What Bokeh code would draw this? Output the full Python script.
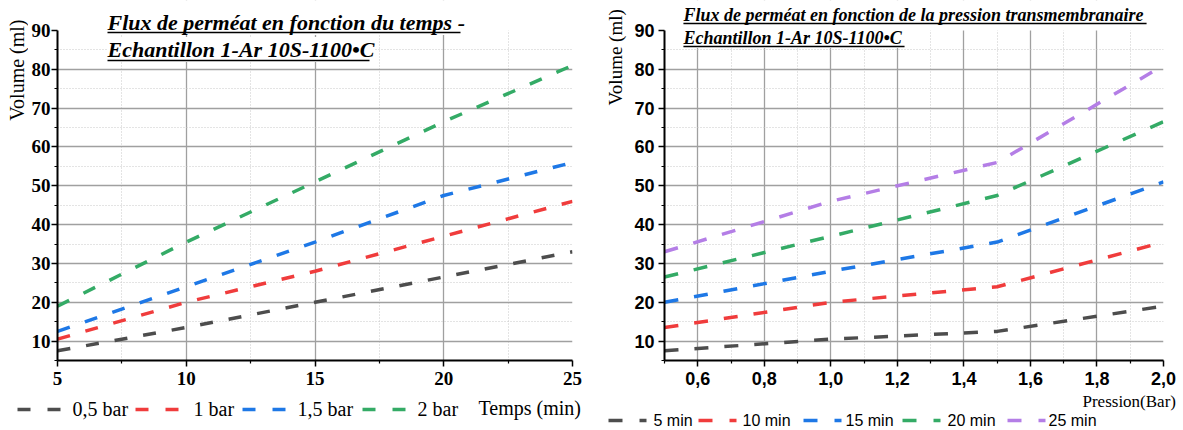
from bokeh.plotting import figure
from bokeh.models import Range1d, FixedTicker, Label, Arrow, BoxAnnotation, CustomJSTickFormatter
from bokeh.layouts import row, column
from bokeh.embed import file_html
from bokeh.resources import INLINE

# ---------------- data ----------------
times = [5, 10, 15, 20, 25]                      # min
pressures = [0.5, 1.0, 1.5, 2.0]                 # bar
pressure_labels = ["0,5 bar", "1 bar", "1,5 bar", "2 bar"]
time_labels = ["5 min", "10  min", "15  min", "20  min", "25  min"]
vol_p05 = [7.5, 13.5, 20.0, 26.5, 33.0]
vol_p10 = [10.5, 20.0, 28.0, 37.0, 46.0]
vol_p15 = [12.5, 24.0, 35.5, 47.5, 56.0]
vol_p20 = [19.0, 35.5, 51.0, 66.5, 81.0]
volumes = [vol_p05, vol_p10, vol_p15, vol_p20]

y_major = [10, 20, 30, 40, 50, 60, 70, 80, 90]
y_minor = [5, 15, 25, 35, 45, 55, 65, 75, 85]
left_x_major = [5, 10, 15, 20, 25]
left_x_minor = [7.5, 12.5, 17.5, 22.5]
right_x_major = [0.6, 0.8, 1.0, 1.2, 1.4, 1.6, 1.8, 2.0]
right_x_minor = [0.5, 0.7, 0.9, 1.1, 1.3, 1.5, 1.7, 1.9]

left_title = ["Flux de perméat en fonction du temps -", "Echantillon 1-Ar 10S-1100•C"]
right_title = ["Flux de perméat en fonction de la pression transmembranaire", "Echantillon 1-Ar 10S-1100•C"]
y_label = "Volume (ml)"
left_x_label = "Temps (min)"
right_x_label = "Pression(Bar)"

p_colors = ["#4d4d4d", "#f03c3c", "#1e78e6", "#34ab66"]
t_colors = ["#4d4d4d", "#f03c3c", "#1e78e6", "#34ab66", "#b47ee6"]

SERIF = "Liberation Serif"
SANS = "Liberation Sans"

# ---------------- layout geometry (pixels) ----------------
TOP_H = 393          # height of chart row
BOT_H = 430 - TOP_H  # legend strip
Y_BOT = 360          # pixel of y = 5
Y_90 = 30            # pixel of y = 90
Y_TOP_VAL = 5 + Y_BOT * 85 / (Y_BOT - Y_90)


def yv(py):
    return 5 + (Y_BOT - py) * 85 / (Y_BOT - Y_90)


def style(p, xt_major, xt_minor, xg_major, xg_minor, font, size, y_standoff):
    p.outline_line_color = None
    p.title.visible = False
    p.xaxis.ticker = FixedTicker(ticks=xt_major, minor_ticks=xt_minor)
    p.yaxis.ticker = FixedTicker(ticks=y_major, minor_ticks=y_minor)
    p.yaxis.bounds = (5, 90)
    p.xgrid.ticker = FixedTicker(ticks=xg_major, minor_ticks=xg_minor)
    p.ygrid.ticker = FixedTicker(ticks=y_major[:-1], minor_ticks=y_minor[1:])
    for g in (p.xgrid, p.ygrid):
        g.grid_line_color = "#a0a0a0"
        g.grid_line_width = 1.3
        g.minor_grid_line_color = "#c8c8c8"
        g.minor_grid_line_width = 1
        g.minor_grid_line_dash = "1 2"
    for a in (p.xaxis, p.yaxis):
        a.axis_line_color = "black"
        a.axis_line_width = 2
        a.major_tick_line_color = "black"
        a.major_tick_line_width = 1.5
        a.minor_tick_line_color = "black"
        a.minor_tick_line_width = 1.2
        a.major_tick_in = 0
        a.major_tick_out = 6
        a.minor_tick_in = 0
        a.minor_tick_out = 3
        a.major_label_text_font = font
        a.major_label_text_font_style = "bold"
        a.major_label_text_font_size = size
        a.major_label_text_color = "black"
    p.xaxis.major_label_standoff = 5
    p.yaxis.major_label_standoff = y_standoff
    # blank the area above 90 (title zone)
    p.add_layout(BoxAnnotation(bottom=90, fill_color="white", fill_alpha=1,
                               line_color=None, level="underlay"))


def add_title(p, xfun, lines, x0, centers, ul_y, x_ends, size, ul_w):
    for txt, cy, uy, xe in zip(lines, centers, ul_y, x_ends):
        p.add_layout(Label(x=xfun(x0), y=yv(cy), text=txt, text_font=SERIF,
                           text_font_style="bold italic", text_font_size=size,
                           text_baseline="middle", text_align="left", text_color="black",
                           background_fill_color="white", background_fill_alpha=1))
        p.add_layout(Arrow(end=None, x_start=xfun(x0), y_start=yv(uy), x_end=xfun(xe), y_end=yv(uy),
                           line_color="black", line_width=ul_w))


def strip(w, h):
    s = figure(width=w, height=h, output_backend="svg", toolbar_location=None,
               x_range=Range1d(0, w), y_range=Range1d(h, 0),
               x_axis_type=None, y_axis_type=None,
               min_border_left=0, min_border_right=0, min_border_top=0, min_border_bottom=0)
    s.outline_line_color = None
    s.title.visible = False
    s.xgrid.visible = False
    s.ygrid.visible = False
    return s


# ---------------- left chart (x 28..590) ----------------
L_OFF, L_X0, L_X1 = 28, 57, 572


def lx(px):
    return 5 + (px - L_X0) * 20 / (L_X1 - L_X0)


p1 = figure(width=590 - L_OFF, height=TOP_H, output_backend="svg", toolbar_location=None,
            x_range=Range1d(5, 25), y_range=Range1d(5, Y_TOP_VAL),
            min_border_left=L_X0 - L_OFF, min_border_right=590 - L_X1,
            min_border_top=0, min_border_bottom=TOP_H - Y_BOT)
style(p1, left_x_major, left_x_minor, [10, 15, 20], left_x_minor, SERIF, "19px", 1)
for vols, c in zip(volumes, p_colors):
    p1.line(times, vols, line_color=c, line_width=3.5, line_dash="13 16")
add_title(p1, lx, left_title, 107, [22, 49], [32, 60], [460, 369], "22px", 1.5)

# ---------------- right chart (x 631..1183) ----------------
R_OFF, R_X0, R_X1 = 631, 662, 1163


def rx(px):
    return 0.5 + (px - R_X0) * 1.5 / (R_X1 - R_X0)


p2 = figure(width=1183 - R_OFF, height=TOP_H, output_backend="svg", toolbar_location=None,
            x_range=Range1d(0.5, 2.0), y_range=Range1d(5, Y_TOP_VAL),
            min_border_left=R_X0 - R_OFF, min_border_right=1183 - R_X1,
            min_border_top=0, min_border_bottom=TOP_H - Y_BOT)
style(p2, right_x_major, right_x_minor, right_x_major[:-1], right_x_minor[1:], SANS, "18px", 4)
p2.xaxis.formatter = CustomJSTickFormatter(code="return tick.toFixed(1).replace('.', ',');")
for i, c in enumerate(t_colors):
    p2.line(pressures, [v[i] for v in volumes], line_color=c, line_width=3.5, line_dash="14 16")
add_title(p2, rx, right_title, 681, [14, 37.5], [23, 46], [1146, 903], "18px", 1.3)

# ---------------- y-axis title strips ----------------
sL = strip(L_OFF, TOP_H)
sL.add_layout(Label(x=16.5, y=76, text=y_label, angle=90, angle_units="deg", text_font=SERIF,
                    text_font_size="20px", text_align="center", text_baseline="middle",
                    text_color="black"))
sR = strip(R_OFF - 590, TOP_H)
sR.add_layout(Label(x=615 - 590, y=62, text=y_label, angle=90, angle_units="deg", text_font=SERIF,
                    text_font_size="19px", text_align="center", text_baseline="middle",
                    text_color="black"))

# ---------------- bottom strip: legends + x titles ----------------
sB = strip(1183, BOT_H)
l_sample_x = [17, 135, 242, 362]
l_text_x = [72, 193, 297, 417]
for sx, tx, lab, c in zip(l_sample_x, l_text_x, pressure_labels, p_colors):
    sB.add_layout(Arrow(end=None, x_start=sx, y_start=409 - TOP_H, x_end=sx + 43, y_end=409 - TOP_H,
                        line_color=c, line_width=3.5, line_dash="13 17"))
    sB.add_layout(Label(x=tx, y=408 - TOP_H, text=lab, text_font=SERIF, text_font_size="20px",
                        text_align="left", text_baseline="middle", text_color="black"))
sB.add_layout(Label(x=478, y=407 - TOP_H, text=left_x_label, text_font=SERIF, text_font_size="20px",
                    text_align="left", text_baseline="middle", text_color="black"))

r_sample_x = [608, 698, 803, 902, 1007]
r_text_x = [653, 742, 845, 947, 1048]
for sx, tx, lab, c in zip(r_sample_x, r_text_x, time_labels, t_colors):
    sB.add_layout(Arrow(end=None, x_start=sx, y_start=420 - TOP_H, x_end=sx + 38, y_end=420 - TOP_H,
                        line_color=c, line_width=3.5, line_dash="14 17"))
    sB.add_layout(Label(x=tx, y=420 - TOP_H, text=lab, text_font=SANS, text_font_size="16px",
                        text_align="left", text_baseline="middle", text_color="black"))
sB.add_layout(Label(x=1082, y=401 - TOP_H, text=right_x_label, text_font=SERIF, text_font_size="17px",
                    text_align="left", text_baseline="middle", text_color="black"))

layout = column(row(sL, p1, sR, p2, spacing=0), sB, spacing=0)
open("out.html", "w").write(file_html(layout, INLINE))
